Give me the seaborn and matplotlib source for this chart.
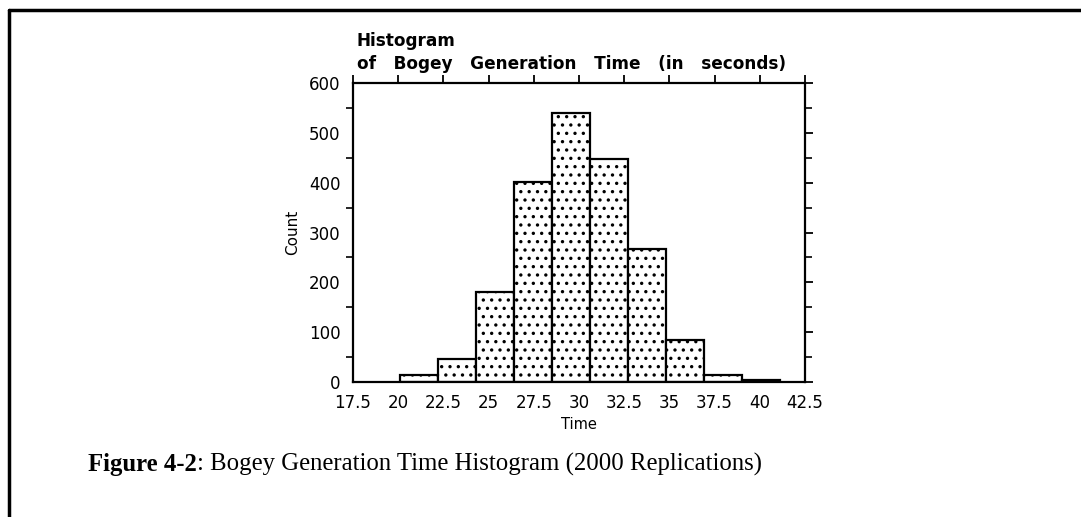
import matplotlib
matplotlib.use("Agg")
import matplotlib.pyplot as plt
import seaborn as sns
import numpy as np
from matplotlib.ticker import MultipleLocator
from matplotlib.lines import Line2D

# ---- data ----
bin_edges = [20.1, 22.2, 24.3, 26.4, 28.5, 30.6, 32.7, 34.8, 36.9, 39.0, 41.1]
bin_centers = [21.15, 23.25, 25.35, 27.45, 29.55, 31.65, 33.75, 35.85, 37.95, 40.05]
counts = [14, 46, 181, 402, 540, 447, 267, 85, 14, 4]
x_ticks = [17.5, 20, 22.5, 25, 27.5, 30, 32.5, 35, 37.5, 40, 42.5]
x_tick_labels = ["17.5", "20", "22.5", "25", "27.5", "30", "32.5", "35", "37.5", "40", "42.5"]
y_ticks = [0, 100, 200, 300, 400, 500, 600]

sns.set_theme(style="white")
plt.rcParams["font.family"] = ["DejaVu Sans"]
plt.rcParams["hatch.linewidth"] = 1.2
plt.rcParams["hatch.color"] = "black"

fig = plt.figure(figsize=(10.81, 5.17), dpi=100)
fig.patch.set_facecolor("white")
ax = fig.add_axes([353 / 1081, 1 - 382 / 517, 452 / 1081, 299 / 517])

sns.histplot(x=bin_centers, weights=counts, bins=bin_edges, ax=ax,
             stat="count", color="white", edgecolor="black", linewidth=1.6,
             alpha=1, fill=True, hatch="..")

ax.set_xlim(17.5, 42.5)
ax.set_ylim(0, 600)
ax.set_xticks(x_ticks)
ax.set_xticklabels(x_tick_labels)
ax.set_yticks(y_ticks)
ax.yaxis.set_minor_locator(MultipleLocator(50))
ax.tick_params(axis="both", which="major", direction="out", length=6, width=1.3,
               color="black", labelsize=12, labelcolor="black", pad=3)
ax.tick_params(axis="y", which="minor", direction="out", length=5, width=1.2,
               color="black", left=True, right=True)
ax.tick_params(axis="x", top=True, labeltop=False)
ax.tick_params(axis="y", right=True, labelright=False)
for s in ax.spines.values():
    s.set_visible(True)
    s.set_color("black")
    s.set_linewidth(1.6)
ax.grid(False)
ax.set_xlabel("Time", fontsize=10.5, color="black", labelpad=3)
ax.set_ylabel("Count", fontsize=11, color="black", labelpad=6)

# chart title (left aligned above plot)
fig.text(357 / 1081, 1 - 41 / 517, "Histogram", fontsize=12.2, fontweight="bold",
         ha="left", va="center", color="black")
fig.text(357 / 1081, 1 - 64 / 517, "of   Bogey   Generation   Time   (in   seconds)",
         fontsize=12.2, fontweight="bold", ha="left", va="center", color="black")

# figure caption with bold prefix
cap_y = 1 - 464 / 517
t1 = fig.text(88 / 1081, cap_y, "Figure 4-2", fontsize=17.8, fontweight="bold",
              family="Liberation Serif", ha="left", va="center", color="black")
renderer = fig.canvas.get_renderer()
bb = t1.get_window_extent(renderer=renderer)
fig.text(bb.x1 / fig.bbox.width, cap_y,
         ": Bogey Generation Time Histogram (2000 Replications)",
         fontsize=17.8, family="Liberation Serif", ha="left", va="center", color="black")

# page border lines (left, top)
fig.add_artist(Line2D([9 / 1081, 9 / 1081], [0, 1 - 10 / 517], transform=fig.transFigure,
                      color="black", linewidth=2.5))
fig.add_artist(Line2D([9 / 1081, 1], [1 - 10 / 517, 1 - 10 / 517], transform=fig.transFigure,
                      color="black", linewidth=2.5))

fig.savefig("out.png", dpi=100, facecolor="white")
